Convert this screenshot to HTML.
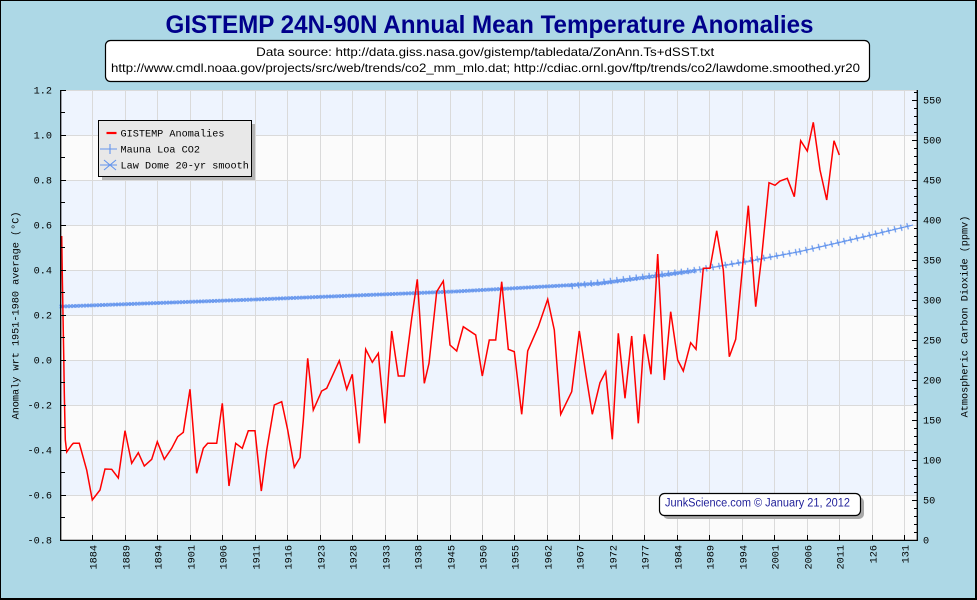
<!DOCTYPE html>
<html><head><meta charset="utf-8"><style>
html,body{margin:0;padding:0;background:#add8e6;}
svg{display:block;}
.m{font-family:"Liberation Mono",monospace;font-size:10.2px;fill:#000;}
</style></head><body>
<svg width="977" height="600" viewBox="0 0 977 600" xmlns="http://www.w3.org/2000/svg">
<defs>
<pattern id="ast" patternUnits="userSpaceOnUse" x="-1.6" y="-2.5" width="3.2" height="5">
<path d="M0.1 0.8 L3.1 4.2 M3.1 0.8 L0.1 4.2" stroke="#6495ed" stroke-width="1.25" fill="none"/>
</pattern>
<pattern id="pls" patternUnits="userSpaceOnUse" x="-3.25" y="-3.5" width="6.5" height="7">
<path d="M3.25 0.3 V6.7 M0.5 3.5 H6" stroke="#6495ed" stroke-width="1.2" fill="none"/>
</pattern>
</defs>
<rect x="0" y="0" width="977" height="600" fill="#add8e6"/>
<text x="489.5" y="33" text-anchor="middle" font-family="Liberation Sans, sans-serif" font-weight="bold" font-size="25" fill="#00008b" textLength="648" lengthAdjust="spacingAndGlyphs">GISTEMP 24N-90N Annual Mean Temperature Anomalies</text>
<rect x="105.5" y="40.5" width="764" height="41" rx="5" ry="5" fill="#fff" stroke="#000" stroke-width="1.2"/>
<text x="485.2" y="56" text-anchor="middle" font-family="Liberation Sans, sans-serif" font-size="12" fill="#000" textLength="458" lengthAdjust="spacingAndGlyphs">Data source: http://data.giss.nasa.gov/gistemp/tabledata/ZonAnn.Ts+dSST.txt</text>
<text x="485.5" y="72" text-anchor="middle" font-family="Liberation Sans, sans-serif" font-size="12" fill="#000" textLength="749" lengthAdjust="spacingAndGlyphs">http://www.cmdl.noaa.gov/projects/src/web/trends/co2_mm_mlo.dat; http://cdiac.ornl.gov/ftp/trends/co2/lawdome.smoothed.yr20</text>

<rect x="61" y="90" width="856" height="450" fill="#fbfbfb"/>
<g fill="#eef4fe">
<rect x="61" y="90" width="856" height="45"/>
<rect x="61" y="180" width="856" height="45"/>
<rect x="61" y="270" width="856" height="45"/>
<rect x="61" y="360" width="856" height="45"/>
<rect x="61" y="450" width="856" height="45"/>
</g>
<g stroke="#dadada" stroke-width="1">
<path d="M61 90.5H917M61 135.5H917M61 180.5H917M61 225.5H917M61 270.5H917M61 315.5H917M61 360.5H917M61 405.5H917M61 450.5H917M61 495.5H917"/>
<path d="M92.5 90V540M125.5 90V540M157.5 90V540M190.5 90V540M222.5 90V540M255.5 90V540M287.5 90V540M320.5 90V540M352.5 90V540M385.5 90V540M417.5 90V540M450.5 90V540M482.5 90V540M514.5 90V540M547.5 90V540M579.5 90V540M612.5 90V540M644.5 90V540M677.5 90V540M709.5 90V540M742.5 90V540M774.5 90V540M807.5 90V540M839.5 90V540M872.5 90V540M904.5 90V540"/>
</g>

<polyline fill="none" stroke="#6495ed" stroke-width="1" points="61,306.5 255,299.5 455,291.5 600,283.5 655,277 700,269.5 750,261.5 800,251.5 865,236.7 913,225"/>
<g transform="translate(61 306.5) rotate(-2.066)"><rect x="-1.6" y="-2.5" width="194" height="5" fill="url(#ast)"/></g>
<g transform="translate(255 299.5) rotate(-2.29)"><rect x="-1.6" y="-2.5" width="200" height="5" fill="url(#ast)"/></g>
<g transform="translate(455 291.5) rotate(-3.16)"><rect x="-1.6" y="-2.5" width="145" height="5" fill="url(#ast)"/></g>
<g transform="translate(600 283.5) rotate(-7.63)"><rect x="-1.6" y="-2.5" width="99" height="5" fill="url(#ast)"/></g>
<g transform="translate(572 286) rotate(-7.35)"><rect x="-3.25" y="-3.5" width="129" height="7" fill="url(#pls)"/></g>
<g transform="translate(700 269.5) rotate(-10.2)"><rect x="-3.25" y="-3.5" width="101.6" height="7" fill="url(#pls)"/></g>
<g transform="translate(800 251.5) rotate(-13.2)"><rect x="-3.25" y="-3.5" width="117" height="7" fill="url(#pls)"/></g>

<polyline fill="none" stroke="#ff0000" stroke-width="1.5" stroke-linejoin="miter" points="61.7,236 62.3,276 63.7,354 64.3,393 65.3,440 66.7,452 71.7,445 73.3,443.3 79.3,443.3 86.7,470 92.3,500 100,490 105,469 111.7,469.3 118.3,478 125,430.7 131.7,463.3 138.3,452.7 144.3,466 151.7,459.3 157.3,441.7 164.3,459.3 171.7,448.3 177.7,436.7 183.3,432.3 190,389.3 196.7,473.3 203.3,448.3 207.7,443.3 216.7,443.3 222.3,403.3 229,486 235.7,443.3 242.3,448.3 248.3,430.7 255,430.7 261.3,491 266.7,450 274.3,405 281.7,401.7 287.7,430 294.3,467.3 300,457.7 303.3,420 307.7,358.3 313.3,410 321.7,391 326.7,388.3 339.3,360.7 346.7,389.3 352.3,374.3 359.3,443.3 365.7,349.3 372.3,362.3 378.3,353.3 385,423.3 391.7,331 398.3,376 404.3,376 411.7,318.3 417.3,279.3 424.3,383.3 429,363.3 436.7,291.7 443.3,281 450,345 456.7,351 463.3,326.7 475.7,335 482.3,376 489.3,340 495.7,340 501.7,281.7 508.3,349.3 514.3,351.7 521.7,414.3 527.7,351 538.3,326.7 547.7,299.3 554.3,330 560.7,414.3 571.7,391.7 579.3,331 585.7,373.3 592.3,414.3 600,382.7 605.7,371.7 612.3,439.3 618.3,333.3 625,398.3 631.7,336 638.3,423.3 644.3,334.3 651,374.3 657.7,254 664.3,380 670.7,311.7 677.7,360 683.3,371 690.7,342.7 696,349.3 703.3,268.3 710,268.3 716.7,230.7 723.3,270 729.3,356.7 735.7,339.3 748.3,205.7 755.7,306.7 761.7,256.7 769,182.7 775,185.3 780,181 787.3,178.3 794.3,196.7 800.7,140.7 807.3,151 813.3,122.3 820,170 826.7,200 834,140.7 839.3,155"/>

<g stroke="#000" fill="none">
<path d="M60.7 90V541" stroke-width="1.3"/>
<path d="M60 540.4H917.5" stroke-width="1.3"/>
<path d="M917.3 90V541" stroke-width="1.3"/>
<path stroke-width="1" d="M61 90.5h5M61 112.5h4M61 135.5h5M61 157.5h4M61 180.5h5M61 202.5h4M61 225.5h5M61 247.5h4M61 270.5h5M61 292.5h4M61 315.5h5M61 337.5h4M61 360.5h5M61 382.5h4M61 405.5h5M61 427.5h4M61 450.5h5M61 472.5h4M61 495.5h5M61 517.5h4"/>
<path stroke-width="1" d="M912 100.5h5M912 140.5h5M912 180.5h5M912 220.5h5M912 260.5h5M912 300.5h5M912 340.5h5M912 380.5h5M912 420.5h5M912 460.5h5M912 500.5h5"/>
<path stroke-width="1" d="M914 92.5h3M914 108.5h3M914 116.5h3M914 124.5h3M914 132.5h3M914 148.5h3M914 156.5h3M914 164.5h3M914 172.5h3M914 188.5h3M914 196.5h3M914 204.5h3M914 212.5h3M914 228.5h3M914 236.5h3M914 244.5h3M914 252.5h3M914 268.5h3M914 276.5h3M914 284.5h3M914 292.5h3M914 308.5h3M914 316.5h3M914 324.5h3M914 332.5h3M914 348.5h3M914 356.5h3M914 364.5h3M914 372.5h3M914 388.5h3M914 396.5h3M914 404.5h3M914 412.5h3M914 428.5h3M914 436.5h3M914 444.5h3M914 452.5h3M914 468.5h3M914 476.5h3M914 484.5h3M914 492.5h3M914 508.5h3M914 516.5h3M914 524.5h3M914 532.5h3"/>
<path stroke-width="1" d="M92.5 535V540M125.5 535V540M157.5 535V540M190.5 535V540M222.5 535V540M255.5 535V540M287.5 535V540M320.5 535V540M352.5 535V540M385.5 535V540M417.5 535V540M450.5 535V540M482.5 535V540M514.5 535V540M547.5 535V540M579.5 535V540M612.5 535V540M644.5 535V540M677.5 535V540M709.5 535V540M742.5 535V540M774.5 535V540M807.5 535V540M839.5 535V540M872.5 535V540M904.5 535V540"/>
</g>

<g class="m" text-anchor="end">
<text x="52" y="93.5">1.2</text>
<text x="52" y="138.5">1.0</text>
<text x="52" y="183.5">0.8</text>
<text x="52" y="228.5">0.6</text>
<text x="52" y="273.5">0.4</text>
<text x="52" y="318.5">0.2</text>
<text x="52" y="363.5">0.0</text>
<text x="52" y="408.5">-0.2</text>
<text x="52" y="453.5">-0.4</text>
<text x="52" y="498.5">-0.6</text>
<text x="52" y="543.5">-0.8</text>
</g>
<g class="m">
<text x="923" y="103.5">550</text>
<text x="923" y="143.5">500</text>
<text x="923" y="183.5">450</text>
<text x="923" y="223.5">400</text>
<text x="923" y="263.5">350</text>
<text x="923" y="303.5">300</text>
<text x="923" y="343.5">250</text>
<text x="923" y="383.5">200</text>
<text x="923" y="423.5">150</text>
<text x="923" y="463.5">100</text>
<text x="923" y="503.5">50</text>
<text x="923" y="543.5">0</text>
</g>
<g class="m" text-anchor="end">
<text transform="translate(96.5 545) rotate(-90)">1884</text>
<text transform="translate(129.5 545) rotate(-90)">1889</text>
<text transform="translate(161.5 545) rotate(-90)">1894</text>
<text transform="translate(194.5 545) rotate(-90)">1901</text>
<text transform="translate(226.5 545) rotate(-90)">1906</text>
<text transform="translate(259.5 545) rotate(-90)">1911</text>
<text transform="translate(291.5 545) rotate(-90)">1916</text>
<text transform="translate(324.5 545) rotate(-90)">1923</text>
<text transform="translate(356.5 545) rotate(-90)">1928</text>
<text transform="translate(389.5 545) rotate(-90)">1933</text>
<text transform="translate(421.5 545) rotate(-90)">1938</text>
<text transform="translate(454.5 545) rotate(-90)">1945</text>
<text transform="translate(486.5 545) rotate(-90)">1950</text>
<text transform="translate(518.5 545) rotate(-90)">1955</text>
<text transform="translate(551.5 545) rotate(-90)">1962</text>
<text transform="translate(583.5 545) rotate(-90)">1967</text>
<text transform="translate(616.5 545) rotate(-90)">1972</text>
<text transform="translate(648.5 545) rotate(-90)">1977</text>
<text transform="translate(681.5 545) rotate(-90)">1984</text>
<text transform="translate(713.5 545) rotate(-90)">1989</text>
<text transform="translate(746.5 545) rotate(-90)">1994</text>
<text transform="translate(778.5 545) rotate(-90)">2001</text>
<text transform="translate(811.5 545) rotate(-90)">2006</text>
<text transform="translate(843.5 545) rotate(-90)">2011</text>
<text transform="translate(876.5 545) rotate(-90)">126</text>
<text transform="translate(908.5 545) rotate(-90)">131</text>
</g>
<text class="m" text-anchor="middle" transform="translate(18.5 315.5) rotate(-90)">Anomaly wrt 1951-1980 average (°C)</text>
<text class="m" text-anchor="middle" transform="translate(967.5 316.5) rotate(-90)">Atmospheric Carbon Dioxide (ppmv)</text>

<rect x="102" y="124" width="153" height="56" fill="#b4b4b4"/>
<rect x="98.5" y="120.5" width="153" height="56" fill="#e8e8e8" stroke="#000" stroke-width="1"/>
<path d="M106.5 133H116.5" stroke="#ff0000" stroke-width="2.2"/>
<path d="M100 149H117M110 144V154" stroke="#6495ed" stroke-width="1.1" fill="none"/>
<path d="M100 165H117M104 160L116 170M116 160L104 170" stroke="#6495ed" stroke-width="1.1" fill="none"/>
<g class="m">
<text x="120.5" y="136.5">GISTEMP Anomalies</text>
<text x="120.5" y="152.5">Mauna Loa CO2</text>
<text x="120.5" y="168.5">Law Dome 20-yr smooth</text>
</g>

<rect x="663" y="497" width="201" height="22" rx="5" ry="5" fill="#a8a8a8"/>
<rect x="659.5" y="493.5" width="201" height="22" rx="5" ry="5" fill="#fff" stroke="#000" stroke-width="1.2"/>
<text x="757.5" y="506.5" text-anchor="middle" font-family="Liberation Sans, sans-serif" font-size="11.5" fill="#1f1f99" textLength="185" lengthAdjust="spacingAndGlyphs">JunkScience.com © January 21, 2012</text>

<rect x="0.5" y="0.5" width="975" height="598" fill="none" stroke="#000" stroke-width="1"/>
<path d="M976.5 0V600M0 599.5H977" stroke="#000" stroke-width="1"/>
</svg>
</body></html>
